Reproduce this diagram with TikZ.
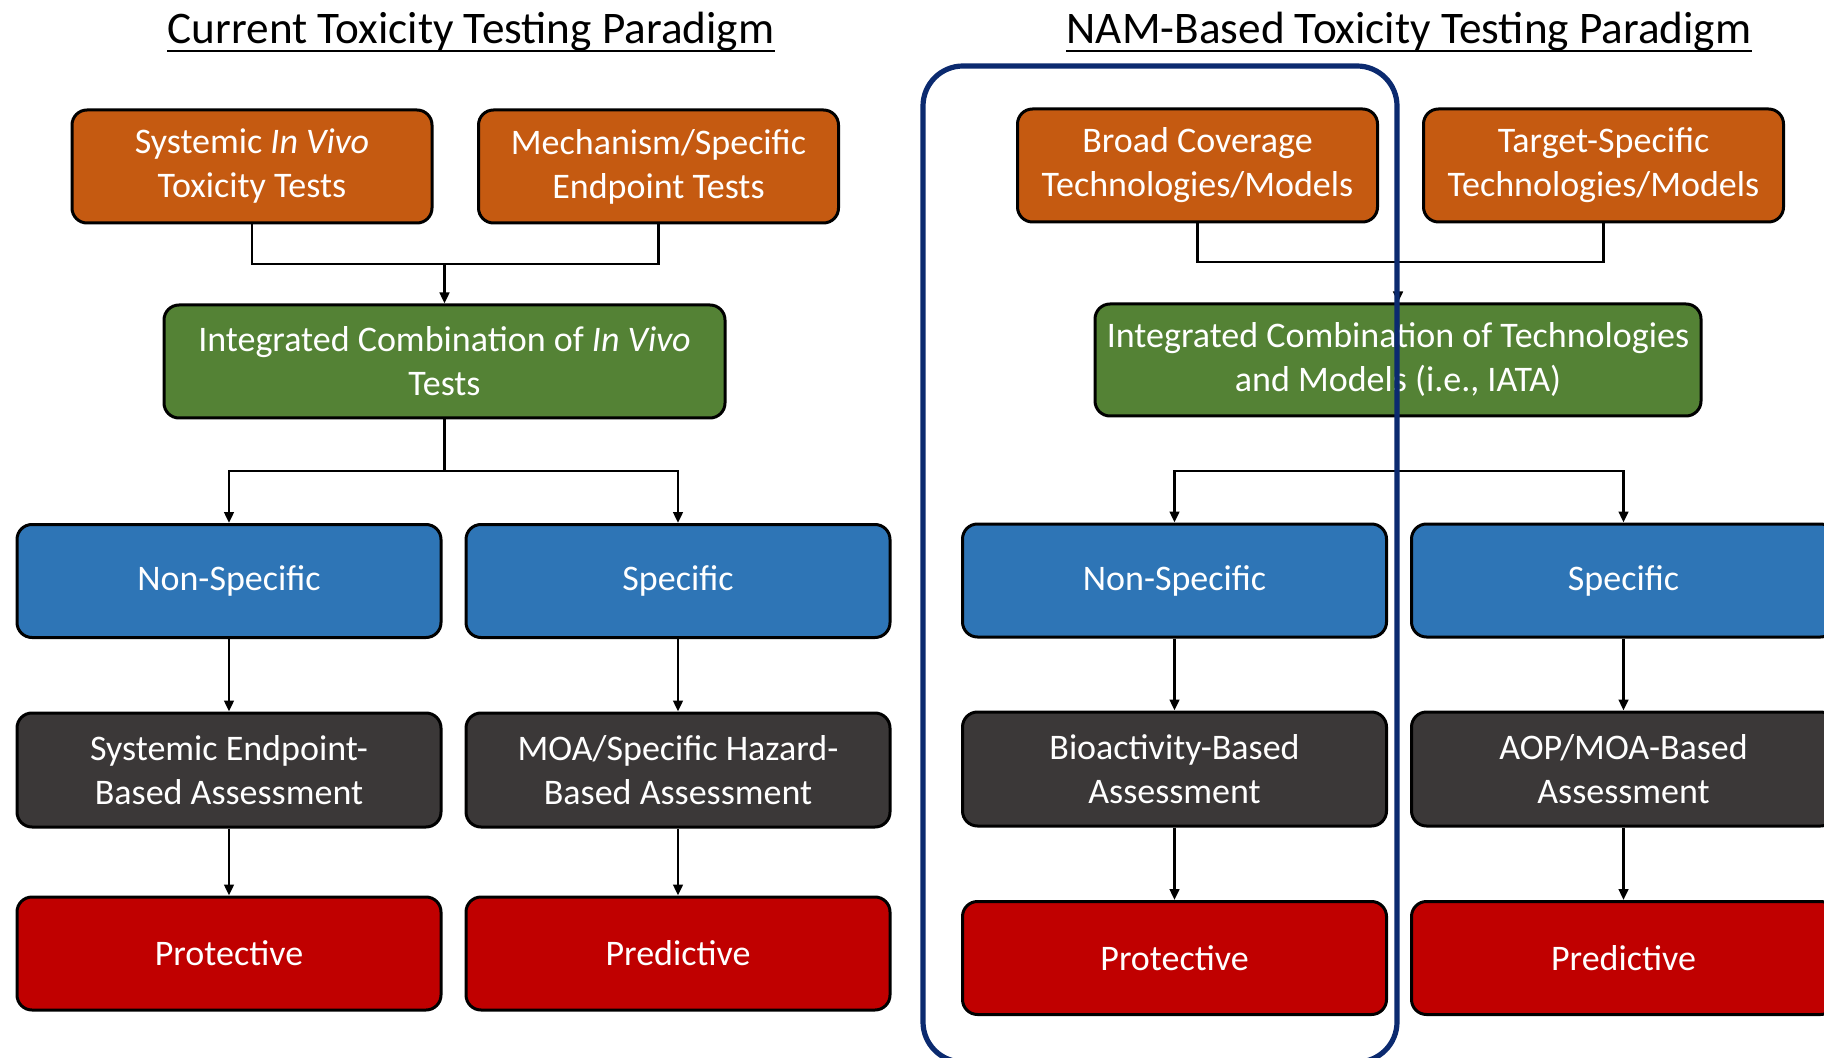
\documentclass[tikz,border=0pt]{standalone}
\usepackage{fontspec}
\setmainfont{Carlito}
\usepackage{xcolor}
\usepackage{tikz}
\usetikzlibrary{arrows.meta,positioning,calc}
\definecolor{toxOrange}{HTML}{C55A11}
\definecolor{toxGreen}{HTML}{548235}
\definecolor{toxBlue}{HTML}{2E75B6}
\definecolor{toxDark}{HTML}{3B3838}
\definecolor{toxRed}{HTML}{C00000}
\definecolor{toxNavy}{HTML}{0B2A6F}

\begin{document}
\begin{tikzpicture}[
  x=.5pt,y=-.5pt,
  box/.style={draw=black,line width=1.5pt,rounded corners=7.5pt,text=white,
    align=center,inner sep=0pt,minimum height=56.5pt,
    font=\fontsize{18pt}{22pt}\selectfont},
  testbox/.style={box,fill=toxOrange,minimum width=180pt},
  combobox/.style={box,fill=toxGreen},
  specbox/.style={box,fill=toxBlue,minimum width=212pt},
  assessbox/.style={box,fill=toxDark,minimum width=212pt,minimum height=57pt},
  outbox/.style={box,fill=toxRed,minimum width=212pt},
  link/.style={draw=black,line width=1.3pt},
  arrowline/.style={link,-{Triangle[length=5.5pt,width=4.8pt]}},
  frameline/.style={draw=toxNavy,line width=2.6pt,rounded corners=20pt},
  headline/.style={font=\fontsize{22.6pt}{26pt}\selectfont,inner sep=0pt}
]
  \useasboundingbox (0,0) rectangle (1824,1058);
  % titles
  \node[headline] (curTitle) at (471,32) {Current Toxicity Testing Paradigm};
  \node[headline] (namTitle) at (1409,32) {NAM-Based Toxicity Testing Paradigm};
  \draw[line width=1pt] ([yshift=-3.8pt]curTitle.base west) -- ([yshift=-3.8pt]curTitle.base east);
  \draw[line width=1pt] ([yshift=-3.8pt]namTitle.base west) -- ([yshift=-3.8pt]namTitle.base east);

  % current paradigm
  \node[testbox] (sysVivo) at (252,166.5) {Systemic \textit{In Vivo}\\Toxicity Tests};
  \node[testbox] (mechTests) at (658.5,166.5) {Mechanism/Specific\\Endpoint Tests};
  \node[combobox,minimum width=280.5pt] (vivoComb) at (444.5,361.5) {Integrated Combination of \textit{In Vivo}\\Tests};
  \node[specbox] (nonSpecL) at (229,581) {Non-Specific};
  \node[specbox] (specL) at (678,581) {Specific};
  \node[assessbox] (endpointAss) at (229,770) {Systemic Endpoint-\\Based Assessment};
  \node[assessbox] (hazardAss) at (678,770) {MOA/Specific Hazard-\\Based Assessment};
  \node[outbox] (protL) at (229,953.5) {Protective};
  \node[outbox] (predL) at (678,953.5) {Predictive};

  \coordinate (joinL) at (444.5,264);
  \coordinate (forkL) at (444.5,471);
  \draw[link] (sysVivo.south) |- (joinL) -| (mechTests.south);
  \draw[arrowline] (joinL) -- (vivoComb.north);
  \draw[link] (vivoComb.south) -- (forkL);
  \draw[arrowline] (forkL) -| (nonSpecL.north);
  \draw[arrowline] (forkL) -| (specL.north);
  \draw[arrowline] (nonSpecL) -- (endpointAss);
  \draw[arrowline] (specL) -- (hazardAss);
  \draw[arrowline] (endpointAss) -- (protL);
  \draw[arrowline] (hazardAss) -- (predL);

  % NAM-based paradigm
  \node[testbox] (broadCov) at (1197.5,165.5) {Broad Coverage\\Technologies/Models};
  \node[testbox] (targetSpec) at (1603.5,165.5) {Target-Specific\\Technologies/Models};
  \node[combobox,minimum width=303pt,minimum height=56pt] (iataComb) at (1398,360) {Integrated Combination of Technologies\\and Models (i.e., IATA)};
  \node[specbox] (nonSpecR) at (1174.5,580.5) {Non-Specific};
  \node[specbox] (specR) at (1623.5,580.5) {Specific};
  \node[assessbox] (bioAss) at (1174.5,769) {Bioactivity-Based\\Assessment};
  \node[assessbox] (aopAss) at (1623.5,769) {AOP/MOA-Based\\Assessment};
  \node[outbox] (protR) at (1174.5,958) {Protective};
  \node[outbox] (predR) at (1623.5,958) {Predictive};

  \coordinate (joinR) at (1398,262);
  \coordinate (forkR) at (1398,471);
  \draw[link] (broadCov.south) |- (joinR) -| (targetSpec.south);
  \draw[arrowline] (joinR) -- (iataComb.north);
  \draw[link] (iataComb.south) -- (forkR);
  \draw[arrowline] (forkR) -| (nonSpecR.north);
  \draw[arrowline] (forkR) -| (specR.north);
  \draw[arrowline] (nonSpecR) -- (bioAss);
  \draw[arrowline] (specR) -- (aopAss);
  \draw[arrowline] (bioAss) -- (protR);
  \draw[arrowline] (aopAss) -- (predR);

  % highlight frame
  \draw[frameline] (923,66) rectangle (1397,1062);
\end{tikzpicture}
\end{document}
